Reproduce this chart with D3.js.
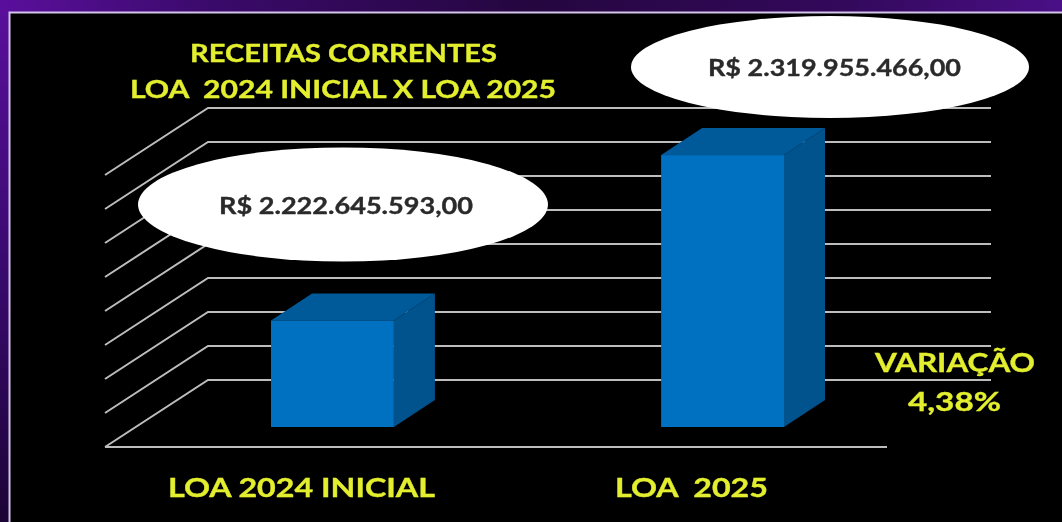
<!DOCTYPE html>
<html><head><meta charset="utf-8">
<style>html,body{margin:0;padding:0;background:#000;overflow:hidden}svg{display:block}text{font-family:Lato,"Open Sans",sans-serif;font-weight:700;white-space:pre}</style>
<script src="https://cdn.jsdelivr.net/npm/d3@7"></script></head><body><script>
const categories = ["LOA 2024 INICIAL", "LOA  2025"];
const values = [2222645593, 2319955466];
const valueLabels = ["R$ 2.222.645.593,00", "R$ 2.319.955.466,00"];
const gridTicks = [2160e6, 2180e6, 2200e6, 2220e6, 2240e6, 2260e6, 2280e6, 2300e6, 2320e6];
const titleLines = ["RECEITAS CORRENTES", "LOA  2024 INICIAL X LOA 2025"];
const noteLines = ["VARIAÇÃO", "4,38%"];

const W = 1062, H = 522;
const svg = d3.select("body").append("svg").attr("width", W).attr("height", H);
const defs = svg.append("defs");

const bandGrad = defs.append("linearGradient").attr("id", "band");
[[0, "#5a0f9c"], [0.2, "#3a0a6a"], [0.5, "#25063f"], [0.8, "#33095c"], [1, "#4a0f86"]]
  .forEach(s => bandGrad.append("stop").attr("offset", s[0]).attr("stop-color", s[1]));
const sideGrad = defs.append("linearGradient").attr("id", "side").attr("x2", 0).attr("y2", 1);
[[0, "#5a0f9c"], [0.5, "#3a0a70"], [1, "#1c0436"]]
  .forEach(s => sideGrad.append("stop").attr("offset", s[0]).attr("stop-color", s[1]));
defs.append("filter").attr("id", "soft").append("feGaussianBlur").attr("stdDeviation", 0.7);

svg.append("rect").attr("width", W).attr("height", H).attr("fill", "#000");
svg.append("rect").attr("width", 9).attr("height", H).attr("fill", "url(#side)");
svg.append("rect").attr("width", W).attr("height", 12).attr("fill", "url(#band)");
svg.append("path").attr("d", `M9.5 ${H}V12.5H${W}`).attr("fill", "none").attr("stroke", "#d3c4ea").attr("stroke-width", 2).attr("filter", "url(#soft)");

const x = d3.scaleBand().domain(categories).range([271, 784]).paddingInner(0.685).paddingOuter(0);
const y = d3.scaleLinear().domain([2160e6, 2320e6]).range([427, 155]);
const depth = { dx: 41, dy: 27 };
const wall = { back: -47, front: 20, left: 105, backLeft: 208, right: 991 };

const g = svg.append("g").attr("filter", "url(#soft)");
const grid = g.append("g").attr("fill", "none").attr("stroke", "#bdbdbd").attr("stroke-width", 2);
grid.selectAll("path").data(gridTicks).join("path")
  .attr("d", t => {
    const yb = y(t) + wall.back, yf = yb + wall.front - wall.back;
    return `M${wall.left} ${yf}L${wall.backLeft} ${yb}H${wall.right}`;
  });
grid.append("path").attr("d", `M${wall.left} ${y(2160e6) + wall.front}H887`);

const bars = g.selectAll("g.bar").data(categories.map((c, i) => ({ c, v: values[i] }))).join("g").attr("class", "bar");
bars.append("path").attr("fill", "#00528c")
  .attr("d", d => {
    const x1 = x(d.c) + x.bandwidth(), t = y(d.v), b = y(2160e6);
    return `M${x1} ${t}l${depth.dx} ${-depth.dy}V${b - depth.dy}L${x1} ${b}Z`;
  });
bars.append("path").attr("fill", "#005a9a")
  .attr("d", d => {
    const x0 = x(d.c), t = y(d.v);
    return `M${x0} ${t}l${depth.dx} ${-depth.dy}h${x.bandwidth()}l${-depth.dx} ${depth.dy}Z`;
  });
bars.append("rect").attr("fill", "#0070c0")
  .attr("x", d => x(d.c)).attr("y", d => y(d.v))
  .attr("width", x.bandwidth()).attr("height", d => y(2160e6) - y(d.v));

const ellipses = [{ cx: 343, cy: 204.5, rx: 205, ry: 57 }, { cx: 830, cy: 67, rx: 199, ry: 51 }];
g.selectAll("ellipse").data(ellipses).join("ellipse")
  .attr("cx", d => d.cx).attr("cy", d => d.cy).attr("rx", d => d.rx).attr("ry", d => d.ry).attr("fill", "#fff");

// Each label is fitted to its measured box, since the source picture is stretched sideways.
function fitted(cls, texts, boxes, size, fill) {
  g.selectAll("text." + cls).data(texts).join("text").attr("class", cls)
    .attr("x", (d, i) => boxes[i][0]).attr("y", (d, i) => boxes[i][2])
    .attr("textLength", (d, i) => boxes[i][1] - boxes[i][0])
    .attr("lengthAdjust", "spacingAndGlyphs")
    .attr("font-size", size).attr("fill", fill)
    .attr("stroke", fill).attr("stroke-width", 0.35).text(d => d);
}
const yellow = "#e3ef2e";
fitted("val", valueLabels, [[219, 473, 213.5], [708, 961, 76]], 22, "#2b2b2b");
fitted("title", titleLines, [[190, 497, 62], [130, 556, 98]], 25, yellow);
fitted("cat", categories, [[168, 435, 497], [615, 768, 497]], 27, yellow);
fitted("note", noteLines, [[875, 1035, 372], [908, 1001, 411]], 27, yellow);
</script></body></html>
